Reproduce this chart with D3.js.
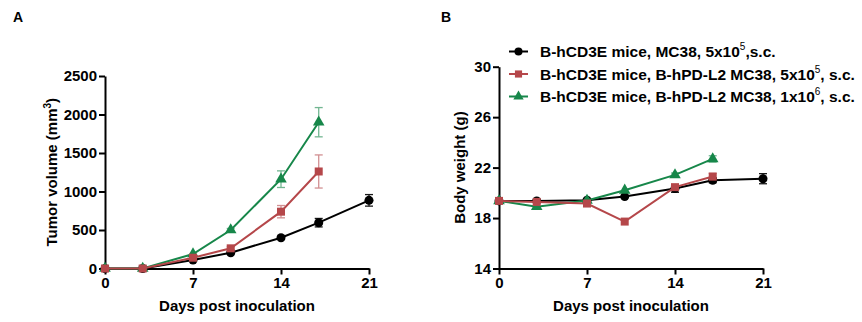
<!DOCTYPE html>
<html>
<head>
<meta charset="utf-8">
<script src="https://cdn.jsdelivr.net/npm/d3@7"></script>
<style>
  body { margin: 0; background: #fff; }
  svg { font-family: "Liberation Sans", Arial, sans-serif; }
</style>
</head>
<body>
<div id="chart"></div>
<script>
// days measured
const days = [0, 3, 7, 10, 14, 17, 21];
const xTicks = [0, 7, 14, 21];

// tumor volume (mm3), mean and SEM
const tvBlack = [0, 0, 110, 205, 400, 595, 885];
const tvBlackErr = [0, 0, 10, 15, 20, 55, 75];
const tvRed = [0, 0, 140, 262, 738, 1260];
const tvRedErr = [0, 0, 15, 20, 80, 215];
const tvGreen = [0, 0, 188, 500, 1160, 1900];
const tvGreenErr = [0, 0, 10, 20, 108, 190];
const tvTicks = [0, 500, 1000, 1500, 2000, 2500];

// body weight (g), mean and SEM
const bwBlack = [19.36, 19.35, 19.42, 19.7, 20.34, 21.0, 21.12];
const bwBlackErr = [0.1, 0.1, 0.1, 0.1, 0.3, 0.2, 0.4];
const bwRed = [19.36, 19.28, 19.15, 17.72, 20.45, 21.29];
const bwRedErr = [0.1, 0.1, 0.1, 0.1, 0.2, 0.25];
const bwGreen = [19.36, 18.9, 19.4, 20.2, 21.42, 22.69];
const bwGreenErr = [0.1, 0.1, 0.1, 0.1, 0.15, 0.25];
const bwTicks = [14, 18, 22, 26, 30];

const legendLabels = [
  ["B-hCD3E mice, MC38, 5x10", "5", ",s.c."],
  ["B-hCD3E mice, B-hPD-L2 MC38, 5x10", "5", ", s.c."],
  ["B-hCD3E mice, B-hPD-L2 MC38, 1x10", "6", ", s.c."]
];

const colors = ["#000000", "#b5474a", "#17874a"];
const shapes = [d3.symbolCircle, d3.symbolSquare, d3.symbolTriangle];
const sizes = [64, 64, 58];
const drawOrder = [0, 2, 1];

const svg = d3.select("#chart").append("svg")
  .attr("width", 862).attr("height", 322);

const drawPanel = (opt) => {
  const x = d3.scaleLinear().domain([0, 21]).range([opt.left, opt.left + 264]);
  const y = d3.scaleLinear().domain(opt.domain).range([opt.bottom, opt.top]);
  const g = svg.append("g");

  const xa = g.append("g")
    .attr("transform", "translate(0," + opt.bottom + ")")
    .call(d3.axisBottom(x).tickValues(xTicks).tickSize(6).tickPadding(3).tickSizeOuter(0));
  const ya = g.append("g")
    .attr("transform", "translate(" + opt.left + ",0)")
    .call(d3.axisLeft(y).tickValues(opt.ticks).tickFormat(d3.format("d"))
      .tickSize(6).tickPadding(2).tickSizeOuter(0));
  [xa, ya].forEach(a => {
    a.select(".domain").attr("stroke-width", 2);
    a.selectAll(".tick line").attr("stroke-width", 2);
    a.selectAll("text").attr("font-size", 15).attr("font-weight", "bold").attr("fill", "#000");
  });

  g.append("text")
    .attr("x", x(10.5)).attr("y", opt.bottom + 42)
    .attr("text-anchor", "middle").attr("font-size", 15).attr("font-weight", "bold")
    .text("Days post inoculation");

  const yl = g.append("text")
    .attr("transform", "translate(" + opt.ylabelX + "," + ((opt.top + opt.bottom) / 2) + ") rotate(-90)")
    .attr("text-anchor", "middle").attr("font-size", 15).attr("font-weight", "bold");
  yl.append("tspan").text(opt.ylabel[0]);
  if (opt.ylabel.length > 1) {
    yl.append("tspan").attr("font-size", 10).attr("dy", -6).text(opt.ylabel[1]);
    yl.append("tspan").attr("dy", 6).text(opt.ylabel[2]);
  }

  g.append("text")
    .attr("x", opt.tagX).attr("y", 22)
    .attr("font-size", 14).attr("font-weight", "bold").text(opt.tag);

  // draw series
  drawOrder.forEach(i => {
    const s = opt.series[i];
    const pts = s.vals.map((v, j) => ({ d: days[j], v: v, e: s.err[j] }));
    const sg = g.append("g");
    const eb = sg.append("g").attr("stroke", colors[i]).attr("stroke-width", 1.3)
      .attr("opacity", i === 0 ? 0.9 : 0.6);
    pts.forEach(p => {
      const xp = x(p.d), y1 = y(p.v + p.e), y2 = y(p.v - p.e);
      if (Math.abs(y1 - y2) < 3) return;
      eb.append("line").attr("x1", xp).attr("x2", xp).attr("y1", y1).attr("y2", y2);
      eb.append("line").attr("x1", xp - 4).attr("x2", xp + 4).attr("y1", y1).attr("y2", y1);
      eb.append("line").attr("x1", xp - 4).attr("x2", xp + 4).attr("y1", y2).attr("y2", y2);
    });
    sg.append("path").datum(pts)
      .attr("fill", "none").attr("stroke", colors[i]).attr("stroke-width", 2)
      .attr("d", d3.line().x(p => x(p.d)).y(p => y(p.v)));
    sg.selectAll("path.pt").data(pts).enter().append("path")
      .attr("class", "pt")
      .attr("transform", p => "translate(" + x(p.d) + "," + y(p.v) + ")")
      .attr("d", d3.symbol().type(shapes[i]).size(sizes[i]))
      .attr("fill", colors[i]);
  });
};

drawPanel({
  left: 105, top: 76, bottom: 268.5, domain: [0, 2500], ticks: tvTicks,
  ylabel: ["Tumor volume (mm", "3", ")"], ylabelX: 57, tag: "A", tagX: 13,
  series: [
    { vals: tvBlack, err: tvBlackErr },
    { vals: tvRed, err: tvRedErr },
    { vals: tvGreen, err: tvGreenErr }
  ]
});

drawPanel({
  left: 499, top: 66.7, bottom: 268.5, domain: [14, 30], ticks: bwTicks,
  ylabel: ["Body weight (g)"], ylabelX: 465, tag: "B", tagX: 441,
  series: [
    { vals: bwBlack, err: bwBlackErr },
    { vals: bwRed, err: bwRedErr },
    { vals: bwGreen, err: bwGreenErr }
  ]
});

// legend
const lg = svg.append("g");
legendLabels.forEach((lab, i) => {
  const yy = 51.5 + i * 22.5;
  lg.append("line").attr("x1", 509).attr("x2", 528).attr("y1", yy).attr("y2", yy)
    .attr("stroke", colors[i]).attr("stroke-width", 2);
  lg.append("path").attr("transform", "translate(518.5," + yy + ")")
    .attr("d", d3.symbol().type(shapes[i]).size(sizes[i] * 0.8)).attr("fill", colors[i]);
  const t = lg.append("text").attr("x", 540).attr("y", yy + 5.5)
    .attr("font-size", 15.5).attr("font-weight", "bold");
  t.append("tspan").text(lab[0]);
  t.append("tspan").attr("font-size", 10).attr("font-weight", "normal").attr("dy", -7).text(lab[1]);
  t.append("tspan").attr("dy", 7).text(lab[2]);
});
</script>
</body>
</html>
